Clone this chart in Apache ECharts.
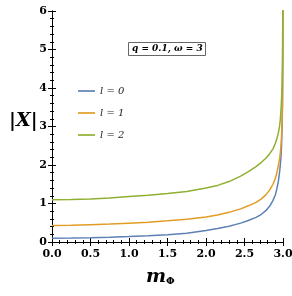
<!DOCTYPE html>
<html><head><meta charset="utf-8">
<script src="https://cdn.jsdelivr.net/npm/echarts@6/dist/echarts.min.js"></script>
<style>html,body{margin:0;padding:0;background:#fff}#c{width:292px;height:296px}</style>
</head><body><div id="c"></div>
<script>
const mPhi   = [0, 0.25, 0.5, 0.75, 1.0, 1.25, 1.5, 1.75, 2.0, 2.15, 2.3, 2.45, 2.55, 2.65, 2.72, 2.78, 2.83, 2.87, 2.9, 2.92, 2.94, 2.955, 2.965, 2.975, 2.982, 2.988, 2.993, 2.996, 2.998, 2.9995];
const l0Vals = [0.10, 0.103, 0.11, 0.122, 0.14, 0.16, 0.19, 0.23, 0.30, 0.35, 0.41, 0.49, 0.56, 0.64, 0.72, 0.82, 0.94, 1.08, 1.22, 1.38, 1.58, 1.80, 2.00, 2.25, 2.55, 2.95, 3.50, 4.20, 5.20, 7.0];
const l1Vals = [0.43, 0.435, 0.45, 0.465, 0.49, 0.515, 0.55, 0.59, 0.65, 0.70, 0.77, 0.86, 0.94, 1.03, 1.12, 1.23, 1.36, 1.50, 1.65, 1.80, 1.98, 2.15, 2.30, 2.55, 2.80, 3.15, 3.70, 4.40, 5.40, 7.0];
const l2Vals = [1.10, 1.105, 1.12, 1.145, 1.18, 1.215, 1.26, 1.31, 1.40, 1.47, 1.57, 1.71, 1.83, 1.96, 2.07, 2.18, 2.30, 2.42, 2.56, 2.68, 2.84, 3.00, 3.18, 3.45, 3.75, 4.15, 4.80, 5.50, 6.50, 8.0];
const seriesNames = ['l = 0', 'l = 1', 'l = 2'];
const colors = ['#5E81B5', '#E19C24', '#8FB032'];
const xTicks = {min: 0, max: 3, interval: 0.5};
const yTicks = {min: 0, max: 6, interval: 1};

const serif = '"DejaVu Serif", "Liberation Serif", serif';
const chart = echarts.init(document.getElementById('c'));
const pair = (xs, ys) => xs.map((x, i) => [x, ys[i]]);
const tickCommon = {
  axisLine: {show: true, lineStyle: {color: '#000', width: 1}},
  axisTick: {show: true, inside: true, length: 4, lineStyle: {color: '#000'}},
  minorTick: {show: true, splitNumber: 5, length: 2, lineStyle: {color: '#000'}},
  splitLine: {show: false}
};
const lbl = {color: '#000', fontFamily: serif, fontWeight: 'bold', fontSize: 11};
chart.setOption({
  animation: false,
  grid: {left: 52, right: 9, top: 11, bottom: 54, containLabel: false, outerBoundsMode: 'none'},
  xAxis: [
    Object.assign({type: 'value', min: xTicks.min, max: xTicks.max, interval: xTicks.interval,
      axisLabel: Object.assign({formatter: v => v.toFixed(1), margin: 7}, lbl)}, tickCommon),
    Object.assign({type: 'value', position: 'top', min: xTicks.min, max: xTicks.max, interval: xTicks.interval,
      axisLabel: {show: false}}, tickCommon)
  ],
  yAxis: [
    Object.assign({type: 'value', min: yTicks.min, max: yTicks.max, interval: yTicks.interval,
      axisLabel: Object.assign({margin: 5}, lbl)}, tickCommon),
    Object.assign({type: 'value', position: 'right', min: yTicks.min, max: yTicks.max, interval: yTicks.interval,
      axisLabel: {show: false}}, tickCommon)
  ],
  legend: {
    orient: 'vertical', left: 73, top: 81, itemGap: 12, itemWidth: 17, itemHeight: 12,
    icon: 'path://M0,5 L20,5 L20,7 L0,7 Z',
    textStyle: {fontFamily: serif, fontStyle: 'italic', fontSize: 10, color: '#222'},
    data: seriesNames
  },
  series: [l0Vals, l1Vals, l2Vals].map((vals, i) => ({
    name: seriesNames[i], type: 'line', data: pair(mPhi, vals), showSymbol: false, smooth: false,
    lineStyle: {color: colors[i], width: 1.5}, itemStyle: {color: colors[i]}, clip: true
  })),
  graphic: [
    {type: 'text', left: 9, top: 112, style: {text: '|X|', fontFamily: serif, fontWeight: 'bold', fontStyle: 'italic', fontSize: 19, fill: '#000'}},
    {type: 'text', left: 146, top: 268, style: {
      text: '{m|m}{s|Φ}', fill: '#000',
      rich: {m: {fontFamily: serif, fontWeight: 'bold', fontStyle: 'italic', fontSize: 19}, s: {fontFamily: serif, fontWeight: 'bold', fontSize: 10, padding: [8, 0, 0, 0]}}
    }},
    {type: 'rect', shape: {x: 128.5, y: 42.5, width: 77, height: 13}, style: {fill: '#fff', stroke: '#666', lineWidth: 1}},
    {type: 'text', left: 132, top: 44, style: {text: 'q = 0.1, ω = 3', fontFamily: serif, fontWeight: 'bold', fontStyle: 'italic', fontSize: 9, fill: '#000'}}
  ]
});
</script></body></html>
